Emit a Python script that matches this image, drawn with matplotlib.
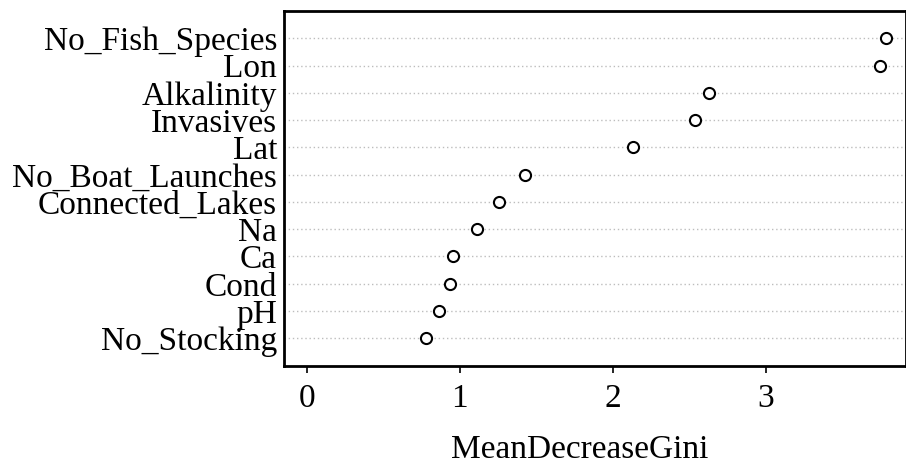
import matplotlib
matplotlib.use("Agg")
import numpy as np
from matplotlib import pyplot as plt

# variable importance, top to bottom as in the chart
variables = ["No_Fish_Species", "Lon", "Alkalinity", "Invasives", "Lat",
             "No_Boat_Launches", "Connected_Lakes", "Na", "Ca", "Cond",
             "pH", "No_Stocking"]
gini = [3.786, 3.751, 2.628, 2.540, 2.135, 1.428, 1.258, 1.109,
        0.952, 0.934, 0.863, 0.777]
xticks = [0, 1, 2, 3]

plt.rcParams['font.family'] = ['Liberation Serif', 'DejaVu Serif']
FS = 24

fig = plt.figure(figsize=(9.06, 4.66), dpi=100)
ax = fig.add_axes([284 / 906, 1 - 365.6 / 466, 621.5 / 906, 354.6 / 466])

n = len(variables)
ypos = np.arange(n, 0, -1)

# dotted guide lines like R's dotchart
for y in ypos:
    ax.axhline(y, color='#bdbdbd', linestyle=(0, (1.0, 2.0)), linewidth=1.0, zorder=1)

ax.plot(gini, ypos, linestyle='none', marker='o', markersize=8,
        markerfacecolor='white', markeredgecolor='black', markeredgewidth=1.5, zorder=3)

ax.set_ylim(0, n + 1)
ax.set_xlim(-0.151, 3.916)
ax.set_yticks(ypos)
ax.set_yticklabels(variables, fontsize=FS)
ax.tick_params(axis='y', length=0, pad=5)
ax.set_xticks(xticks)
ax.set_xticklabels([str(t) for t in xticks], fontsize=FS)
ax.tick_params(axis='x', length=5, width=1.2, pad=8)

for sp in ax.spines.values():
    sp.set_linewidth(2)

ax.set_xlabel("MeanDecreaseGini", fontsize=FS, va='baseline')
ax.xaxis.set_label_coords((580 - 284) / 621.5, -(458 - 365.6) / 354.6)

fig.savefig("out.png", dpi=100)
